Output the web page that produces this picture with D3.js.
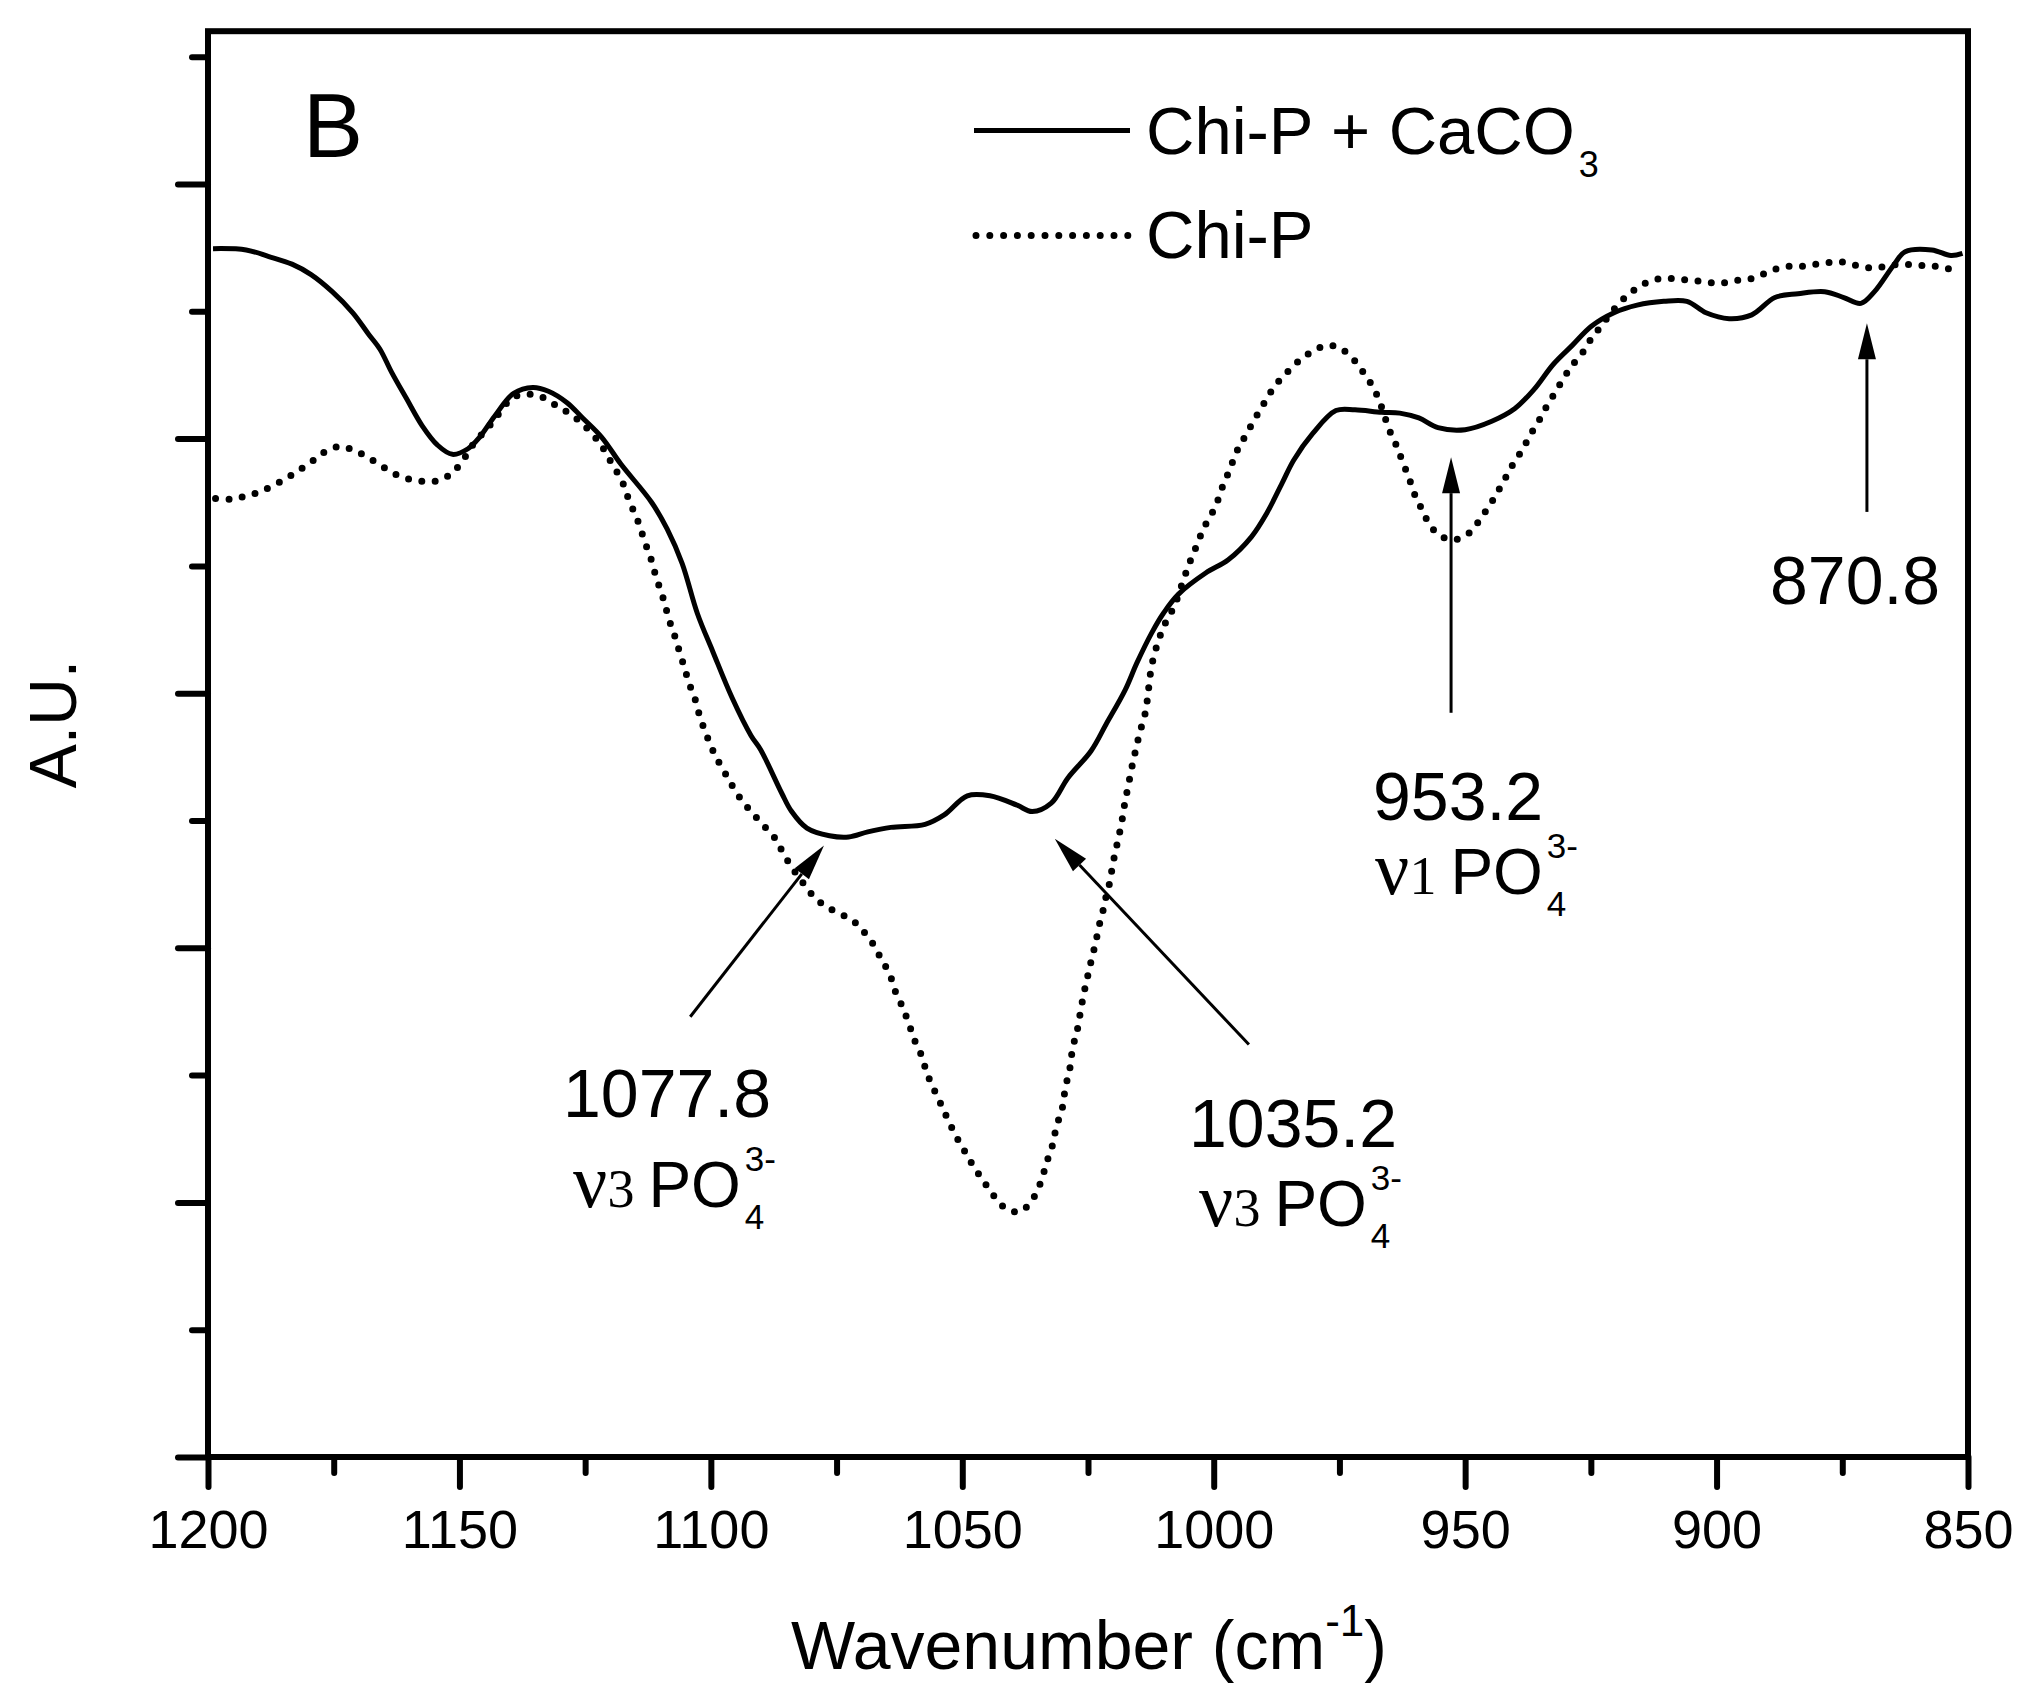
<!DOCTYPE html>
<html>
<head>
<meta charset="utf-8">
<script src="https://cdn.jsdelivr.net/npm/d3@7"></script>
<style>
  html, body { margin: 0; padding: 0; background: #fff; }
  svg { display: block; font-family: "Liberation Sans", Arial, Helvetica, sans-serif; }
</style>
</head>
<body>
<svg id="chart" width="2030" height="1706"></svg>
<script>
// ======================================================================
// DATA (wavenumber in cm-1, absorbance in arbitrary units)
// ======================================================================

const xMajorTicks = [1200, 1150, 1100, 1050, 1000, 950, 900, 850];
const xMinorTicks = [1175, 1125, 1075, 1025, 975, 925, 875];
const yMajorTicks = [0, 1, 2, 3, 4, 5];
const yMinorTicks = [0.5, 1.5, 2.5, 3.5, 4.5, 5.5];

const seriesNames = ["Chi-P + CaCO", "Chi-P"];

// Chi-P + CaCO3 (solid)
const chiPCaCO3 = [
  [1199, 4.746], [1192.4, 4.741], [1187.9, 4.715], [1183.3, 4.685], [1179.5, 4.644],
  [1175.3, 4.577], [1171.2, 4.494], [1168.1, 4.411], [1165.8, 4.351], [1163.5, 4.261],
  [1160.5, 4.156], [1157.4, 4.05], [1154.4, 3.975], [1151.4, 3.938], [1148.3, 3.96],
  [1146, 4.005], [1143, 4.088], [1139.2, 4.178], [1135.4, 4.201], [1132.3, 4.186],
  [1128.6, 4.141], [1125.5, 4.081], [1121.7, 4.005], [1117.9, 3.9], [1111.8, 3.75],
  [1108.7, 3.645], [1105.7, 3.509], [1102.7, 3.314], [1099.6, 3.163], [1095.8, 2.983],
  [1092, 2.833], [1090.1, 2.778], [1085.9, 2.607], [1084, 2.537], [1080.9, 2.47],
  [1076.4, 2.44], [1072.6, 2.435], [1068.8, 2.455], [1064.2, 2.473], [1057.4, 2.485],
  [1053.6, 2.522], [1049, 2.597], [1044.5, 2.597], [1039.1, 2.56], [1036.1, 2.535],
  [1032.3, 2.568], [1029, 2.667], [1024.4, 2.773], [1021.4, 2.878], [1017.6, 3.013],
  [1015.3, 3.118], [1012.3, 3.238], [1010, 3.314], [1007, 3.389], [1001.6, 3.472],
  [997.1, 3.524], [992.5, 3.614], [989.5, 3.705], [986.4, 3.825], [984.1, 3.915],
  [980.3, 4.02], [975.7, 4.11], [971.9, 4.113], [966.6, 4.103], [963, 4.1],
  [959.2, 4.081], [955.4, 4.043], [950, 4.035], [944.7, 4.068], [940.1, 4.118],
  [936.3, 4.193], [932.5, 4.291], [928.7, 4.366], [924.9, 4.441], [920.4, 4.494],
  [915.8, 4.524], [910.5, 4.539], [905.9, 4.539], [902.1, 4.494], [897.5, 4.471],
  [893, 4.486], [888.4, 4.554], [883.8, 4.569], [878.5, 4.577], [874.7, 4.554],
  [871.3, 4.531], [868.6, 4.577], [864.8, 4.681], [862.5, 4.734], [857.2, 4.741],
  [853.4, 4.719], [851.1, 4.727]
];

// Chi-P (dotted)
const chiP = [
  [1198.5, 3.765], [1195.5, 3.762], [1192.8, 3.772], [1190.2, 3.787], [1187.3, 3.813],
  [1184.5, 3.843], [1181.8, 3.877], [1179, 3.915], [1176.5, 3.951], [1173.6, 3.969],
  [1170.8, 3.952], [1168.1, 3.925], [1165.3, 3.89], [1162.6, 3.859], [1159.9, 3.84],
  [1157.1, 3.832], [1154.4, 3.834], [1151.6, 3.862], [1149.2, 3.918], [1147.6, 3.968],
  [1143.7, 4.058], [1139.2, 4.163], [1135.8, 4.174], [1133.1, 4.159], [1130.4, 4.125],
  [1127.8, 4.095], [1125.1, 4.05], [1122.4, 3.99], [1120.9, 3.945], [1119.4, 3.892],
  [1117.7, 3.835], [1116.7, 3.78], [1115.6, 3.727], [1114.4, 3.67], [1113.5, 3.617],
  [1112.6, 3.565], [1111.6, 3.509], [1110.9, 3.456], [1109.9, 3.399], [1109.1, 3.347],
  [1108.4, 3.294], [1107.4, 3.238], [1106.6, 3.186], [1105.7, 3.129], [1104.9, 3.076],
  [1104, 3.021], [1103, 2.968], [1102.3, 2.916], [1101.3, 2.858], [1100.2, 2.803],
  [1099, 2.75], [1097.5, 2.698], [1096, 2.645], [1094.1, 2.586], [1092, 2.535],
  [1089.5, 2.48], [1087.2, 2.429], [1085.7, 2.375], [1084, 2.319], [1082.1, 2.267],
  [1079.8, 2.207], [1077.4, 2.166], [1074.7, 2.137], [1071.9, 2.109], [1069.5, 2.061],
  [1067.6, 2.011], [1066, 1.951], [1064.4, 1.896], [1063.6, 1.843], [1062.3, 1.786],
  [1061.2, 1.733], [1060.2, 1.678], [1059.3, 1.628], [1058, 1.572], [1057.2, 1.518],
  [1056.1, 1.463], [1054.8, 1.41], [1053.6, 1.357], [1052.3, 1.302], [1050.9, 1.248],
  [1049.4, 1.197], [1047.7, 1.139], [1045.9, 1.087], [1043.9, 1.03], [1041.4, 0.977],
  [1038.6, 0.963], [1036.2, 1.007], [1034.7, 1.064], [1033.8, 1.117], [1033, 1.17],
  [1032.1, 1.222], [1031.5, 1.278], [1030.7, 1.335], [1029.9, 1.388], [1029.6, 1.44],
  [1029, 1.493], [1028.4, 1.548], [1028.1, 1.605], [1027.3, 1.661], [1026.8, 1.714],
  [1026.3, 1.771], [1025.8, 1.823], [1025.2, 1.876], [1024.6, 1.929], [1023.9, 1.986],
  [1023.3, 2.038], [1022.7, 2.094], [1022, 2.147], [1021.4, 2.202], [1020.7, 2.255],
  [1020.2, 2.312], [1019.7, 2.364], [1019.1, 2.417], [1018.5, 2.473], [1018, 2.527],
  [1017.6, 2.579], [1017, 2.635], [1016.5, 2.688], [1015.9, 2.743], [1015.3, 2.796],
  [1014.6, 2.853], [1013.8, 2.906], [1013.3, 2.96], [1012.3, 3.111], [1010.7, 3.223],
  [1009.6, 3.276], [1007.8, 3.344], [1006.2, 3.434], [1005, 3.502], [1003.9, 3.554],
  [1002.8, 3.61], [1001.6, 3.663], [1000.2, 3.712], [998.9, 3.772], [998, 3.825],
  [996.8, 3.877], [995.7, 3.938], [994.4, 3.986], [992.8, 4.043], [991.3, 4.095],
  [989.7, 4.148], [987.9, 4.205], [985.6, 4.256], [983, 4.306], [980.3, 4.343],
  [977.4, 4.366], [974.8, 4.354], [972.1, 4.309], [970, 4.253], [968.3, 4.201],
  [967, 4.145], [965.1, 4.035], [963.9, 3.983], [963, 3.938], [961.8, 3.877],
  [960.8, 3.825], [959.8, 3.769], [958.4, 3.715], [957, 3.659], [954.4, 3.612],
  [951.7, 3.604], [948.9, 3.634], [946.8, 3.69], [944.9, 3.745], [943.4, 3.795],
  [941.8, 3.852], [940.3, 3.905], [938.6, 3.957], [937.1, 4.013], [935.4, 4.068],
  [933.9, 4.123], [932.3, 4.175], [930.6, 4.231], [928.9, 4.283], [926.7, 4.336],
  [924.9, 4.393], [922.8, 4.446], [920.7, 4.501], [918.2, 4.554], [915.6, 4.594],
  [912.9, 4.621], [910.1, 4.629], [907.3, 4.625], [904.6, 4.621], [901.8, 4.614],
  [899.2, 4.61], [896.5, 4.621], [893.7, 4.625], [891, 4.644], [888.1, 4.667],
  [885.5, 4.677], [882.8, 4.677], [880, 4.685], [877.2, 4.692], [874.4, 4.692],
  [871.6, 4.677], [868.8, 4.67], [866.2, 4.677], [863.6, 4.685], [860.6, 4.681],
  [857.9, 4.678], [855.3, 4.674], [852.6, 4.659]
];

// Band assignments: arrow tip / tail in data units
const peaks = [
  { label: "1077.8", mode: "3", tip: [1077.5, 2.402], tail: [1104.1, 1.729] },
  { label: "1035.2", mode: "3", tip: [1031.6, 2.428], tail: [993.0, 1.62] },
  { label: "953.2", mode: "1", tip: [952.8, 3.927], tail: [952.8, 2.923] },
  { label: "870.8", mode: null, tip: [870.1, 4.453], tail: [870.1, 3.712] }
];

// ======================================================================
// LAYOUT
// ======================================================================

const serif = '"Liberation Serif", "Times New Roman", serif';

// label anchors (px): first line, then "v PO4" line
const labelPos = {
  "1077.8": { x: 563, y: 1117, x2: 573, y2: 1207 },
  "1035.2": { x: 1189, y: 1147, x2: 1199, y2: 1226 },
  "953.2": { x: 1373, y: 820, x2: 1375, y2: 894 },
  "870.8": { x: 1770, y: 604 }
};

const x = d3.scaleLinear().domain([1200, 850]).range([208, 1968]);
const y = d3.scaleLinear().domain([0, 5.6]).range([1457, 31.2]);

const svg = d3.select("#chart");

// ======================================================================
// AXES
// ======================================================================

const styleAxis = (g) => {
  g.select(".domain").remove();
  g.attr("font-family", null).attr("font-size", null);
  g.selectAll("line")
    .attr("stroke", "#000")
    .attr("stroke-width", 6)
    .attr("stroke-linecap", "round");
};

svg
  .append("g")
  .attr("transform", `translate(0,${y(0)})`)
  .call(d3.axisBottom(x).tickValues(xMinorTicks).tickSize(16).tickFormat(""))
  .call(styleAxis);

svg
  .append("g")
  .attr("transform", `translate(0,${y(0)})`)
  .call(d3.axisBottom(x).tickValues(xMajorTicks).tickSize(30).tickFormat(d3.format("d")))
  .call(styleAxis)
  .call((g) =>
    g
      .selectAll("text")
      .attr("y", 91)
      .attr("dy", null)
      .attr("fill", "#000")
      .attr("font-size", 54)
  );

svg
  .append("g")
  .attr("transform", `translate(${x(1200)},0)`)
  .call(d3.axisLeft(y).tickValues(yMinorTicks).tickSize(16).tickFormat(""))
  .call(styleAxis);

svg
  .append("g")
  .attr("transform", `translate(${x(1200)},0)`)
  .call(d3.axisLeft(y).tickValues(yMajorTicks).tickSize(30).tickFormat(""))
  .call(styleAxis);

// frame
svg
  .append("rect")
  .attr("x", x(1200))
  .attr("y", y(5.6))
  .attr("width", x(850) - x(1200))
  .attr("height", y(0) - y(5.6))
  .attr("fill", "none")
  .attr("stroke", "#000")
  .attr("stroke-width", 6);

// ======================================================================
// CURVES
// ======================================================================

const line = d3
  .line()
  .x((d) => x(d[0]))
  .y((d) => y(d[1]))
  .curve(d3.curveCatmullRom.alpha(0.5));

svg
  .append("path")
  .datum(chiP)
  .attr("d", line)
  .attr("fill", "none")
  .attr("stroke", "#000")
  .attr("stroke-width", 7)
  .attr("stroke-linecap", "round")
  .attr("stroke-dasharray", "0 13.4");

svg
  .append("path")
  .datum(chiPCaCO3)
  .attr("d", line)
  .attr("fill", "none")
  .attr("stroke", "#000")
  .attr("stroke-width", 5)
  .attr("stroke-linejoin", "round");

// ======================================================================
// LEGEND
// ======================================================================

const legend = svg.append("g");

legend
  .append("line")
  .attr("x1", 974).attr("x2", 1130)
  .attr("y1", 130.6).attr("y2", 130.6)
  .attr("stroke", "#000")
  .attr("stroke-width", 5);

legend
  .append("line")
  .attr("x1", 976).attr("x2", 1128)
  .attr("y1", 235.6).attr("y2", 235.6)
  .attr("stroke", "#000")
  .attr("stroke-width", 7)
  .attr("stroke-linecap", "round")
  .attr("stroke-dasharray", "0 13.8");

const leg1 = legend
  .append("text")
  .attr("x", 1146)
  .attr("y", 154)
  .attr("font-size", 67)
  .text(seriesNames[0]);

const leg1Box = leg1.node().getBBox();
legend
  .append("text")
  .attr("x", leg1Box.x + leg1Box.width + 4)
  .attr("y", 177)
  .attr("font-size", 36)
  .text("3");

legend
  .append("text")
  .attr("x", 1146)
  .attr("y", 258)
  .attr("font-size", 67)
  .text(seriesNames[1]);

// panel letter
svg
  .append("text")
  .attr("x", 303)
  .attr("y", 157)
  .attr("font-size", 90)
  .text("B");

// ======================================================================
// PEAK ANNOTATIONS
// ======================================================================

const notes = svg.append("g");

peaks.forEach((p) => {
  const tx = x(p.tip[0]), ty = y(p.tip[1]);
  const sx = x(p.tail[0]), sy = y(p.tail[1]);
  const len = Math.hypot(tx - sx, ty - sy);
  const ux = (tx - sx) / len, uy = (ty - sy) / len;
  const bx = tx - ux * 36, by = ty - uy * 36;

  notes
    .append("line")
    .attr("x1", sx).attr("y1", sy)
    .attr("x2", bx).attr("y2", by)
    .attr("stroke", "#000")
    .attr("stroke-width", 3);

  notes
    .append("path")
    .attr("d", `M${tx},${ty}L${bx - uy * 9},${by + ux * 9}L${bx + uy * 9},${by - ux * 9}Z`)
    .attr("fill", "#000");

  const pos = labelPos[p.label];
  notes
    .append("text")
    .attr("x", pos.x)
    .attr("y", pos.y)
    .attr("font-size", 68)
    .text(p.label);

  if (!p.mode) return;

  const t = notes.append("text").attr("x", pos.x2).attr("y", pos.y2);
  t.append("tspan").attr("font-family", serif).attr("font-size", 76).text("ν");
  t.append("tspan").attr("font-family", serif).attr("font-size", 54).text(p.mode);
  t.append("tspan").attr("dx", 14).attr("font-size", 64).text("PO");

  const box = t.node().getBBox();
  const end = box.x + box.width + 4;
  notes.append("text").attr("x", end).attr("y", pos.y2 - 36).attr("font-size", 35).text("3-");
  notes.append("text").attr("x", end).attr("y", pos.y2 + 22).attr("font-size", 35).text("4");
});

// ======================================================================
// AXIS TITLES
// ======================================================================

const xTitle = svg
  .append("text")
  .attr("x", 1089)
  .attr("y", 1669)
  .attr("text-anchor", "middle")
  .attr("font-size", 68);
xTitle.append("tspan").text("Wavenumber (cm");
xTitle.append("tspan").attr("dy", -33).attr("font-size", 44).text("-1");
xTitle.append("tspan").attr("dy", 33).text(")");

svg
  .append("text")
  .attr("transform", "translate(76,724) rotate(-90)")
  .attr("text-anchor", "middle")
  .attr("font-size", 66)
  .text("A.U.");
</script>
</body>
</html>
